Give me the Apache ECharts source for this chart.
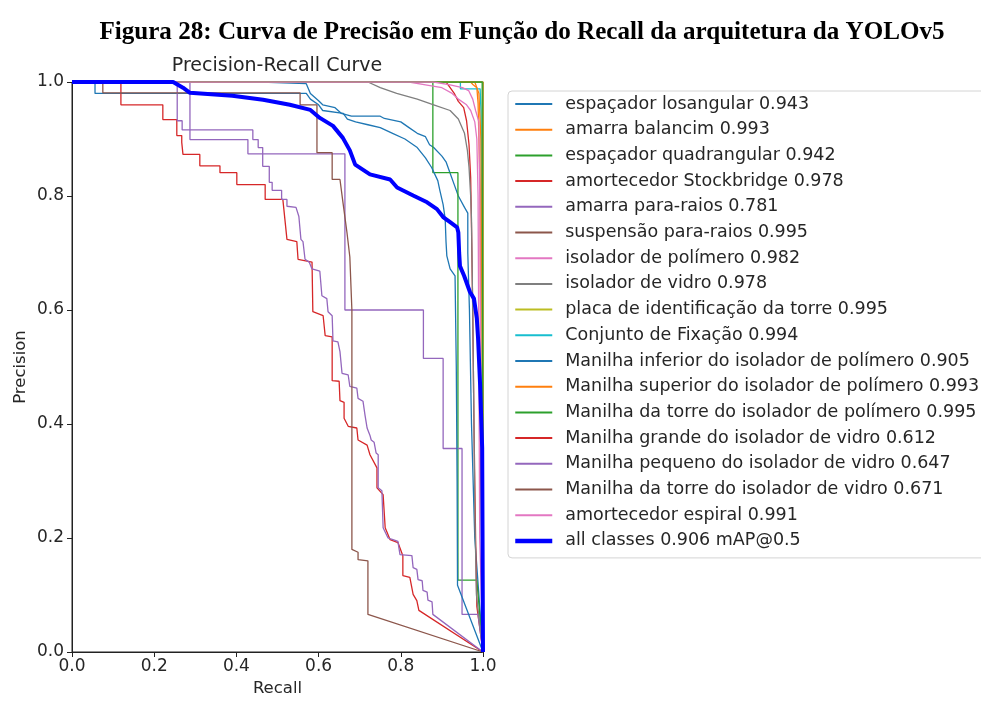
<!DOCTYPE html>
<html>
<head>
<meta charset="utf-8">
<script src="https://cdn.jsdelivr.net/npm/echarts@6/dist/echarts.min.js"></script>
<style>
  html, body { margin: 0; padding: 0; background: #fff; }
  #chart { width: 981px; height: 702px; }
</style>
</head>
<body>
<div id="chart"></div>
<script>
// class names as in the legend
var classNames = [
  'espaçador losangular 0.943',
  'amarra balancim 0.993',
  'espaçador quadrangular 0.942',
  'amortecedor Stockbridge 0.978',
  'amarra para-raios 0.781',
  'suspensão para-raios 0.995',
  'isolador de polímero 0.982',
  'isolador de vidro 0.978',
  'placa de identificação da torre 0.995',
  'Conjunto de Fixação 0.994',
  'Manilha inferior do isolador de polímero 0.905',
  'Manilha superior do isolador de polímero 0.993',
  'Manilha da torre do isolador de polímero 0.995',
  'Manilha grande do isolador de vidro 0.612',
  'Manilha pequeno do isolador de vidro 0.647',
  'Manilha da torre do isolador de vidro 0.671',
  'amortecedor espiral 0.991',
  'all classes 0.906 mAP@0.5'
];

// [recall, precision] pairs
var espacadorLosangular = [[0,1],[0.46,1],[0.46,0.997],[0.57,0.997],[0.58,0.98],[0.6,0.967],[0.61,0.96],[0.64,0.955],[0.655,0.945],[0.68,0.94],[0.75,0.94],[0.76,0.936],[0.8,0.93],[0.82,0.92],[0.84,0.91],[0.86,0.904],[0.87,0.89],[0.88,0.885],[0.9,0.87],[0.91,0.86],[0.92,0.84],[0.93,0.82],[0.94,0.8],[0.955,0.78],[0.963,0.77],[0.963,0.7],[0.967,0.6],[0.972,0.4],[0.98,0.2],[1,0]];
var amarraBalancim = [[0,1],[0.97,1],[0.976,0.995],[0.985,0.99],[0.988,0.963],[0.993,0.81],[0.995,0.3],[1,0]];
var espacadorQuadrangular = [[0,1],[0.878,1],[0.878,0.841],[0.939,0.841],[0.939,0.126],[0.985,0.126],[1,0]];
var amortecedorStockbridge = [[0,1],[0.91,1],[0.92,0.99],[0.93,0.98],[0.94,0.966],[0.953,0.955],[0.96,0.932],[0.966,0.89],[0.97,0.832],[0.972,0.745],[0.975,0.6],[0.978,0.4],[0.982,0.2],[0.985,0.08],[1,0]];
var amarraParaRaios = [[0,1],[0.287,1],[0.287,0.899],[0.428,0.899],[0.428,0.874],[0.664,0.874],[0.664,0.6],[0.855,0.6],[0.855,0.515],[0.903,0.515],[0.903,0.357],[0.949,0.357],[0.949,0.066],[0.988,0.066],[1,0]];
var suspensaoParaRaios = [[0,1],[1,1],[1,0]];
var isoladorPolimero = [[0,1],[0.82,1],[0.86,0.995],[0.9,0.99],[0.925,0.98],[0.94,0.97],[0.96,0.96],[0.97,0.95],[0.98,0.93],[0.985,0.9],[0.988,0.8],[0.99,0.5],[0.992,0.2],[1,0]];
var isoladorVidro = [[0,1],[0.72,1],[0.75,0.99],[0.79,0.98],[0.84,0.97],[0.88,0.96],[0.92,0.95],[0.94,0.935],[0.955,0.91],[0.962,0.88],[0.966,0.85],[0.97,0.8],[0.972,0.76],[0.975,0.6],[0.978,0.4],[0.98,0.25],[0.984,0.1],[1,0]];
var placaIdentificacao = [[0,1],[1,1],[1,0]];
var conjuntoFixacao = [[0,1],[0.945,1],[0.945,0.988],[0.993,0.988],[0.995,0.95],[0.998,0.6],[1,0]];
var manilhaInferiorPolimero = [[0,1],[0.056,1],[0.056,0.98],[0.57,0.98],[0.58,0.97],[0.6,0.96],[0.61,0.95],[0.66,0.945],[0.67,0.935],[0.69,0.93],[0.72,0.925],[0.75,0.92],[0.78,0.91],[0.81,0.9],[0.84,0.885],[0.86,0.867],[0.875,0.85],[0.89,0.827],[0.895,0.81],[0.903,0.785],[0.908,0.76],[0.91,0.72],[0.912,0.695],[0.92,0.672],[0.932,0.66],[0.935,0.5],[0.937,0.3],[0.938,0.117],[1,0]];
var manilhaSuperiorPolimero = [[0,1],[0.98,1],[0.99,0.98],[0.995,0.9],[0.998,0.5],[1,0]];
var manilhaTorrePolimero = [[0,1],[0.998,1],[0.998,0.92],[1,0]];
var manilhaGrandeVidro = [[0,1],[0.119,1],[0.119,0.96],[0.221,0.96],[0.221,0.934],[0.255,0.934],[0.255,0.906],[0.267,0.906],[0.267,0.894],[0.27,0.894],[0.27,0.873],[0.311,0.873],[0.311,0.853],[0.36,0.853],[0.36,0.841],[0.401,0.841],[0.401,0.82],[0.47,0.82],[0.47,0.794],[0.513,0.794],[0.518,0.759],[0.523,0.724],[0.547,0.72],[0.55,0.689],[0.584,0.684],[0.586,0.597],[0.611,0.59],[0.616,0.555],[0.633,0.553],[0.633,0.476],[0.65,0.475],[0.652,0.441],[0.662,0.438],[0.662,0.41],[0.672,0.396],[0.693,0.393],[0.696,0.372],[0.718,0.363],[0.725,0.346],[0.742,0.323],[0.742,0.288],[0.757,0.276],[0.762,0.218],[0.774,0.197],[0.793,0.192],[0.805,0.169],[0.805,0.134],[0.822,0.131],[0.83,0.101],[0.839,0.09],[0.844,0.073],[1,0]];
var manilhaPequenoVidro = [[0,1],[0.256,1],[0.256,0.932],[0.268,0.932],[0.268,0.916],[0.44,0.916],[0.44,0.899],[0.453,0.899],[0.453,0.885],[0.464,0.885],[0.464,0.852],[0.48,0.852],[0.48,0.824],[0.487,0.824],[0.487,0.81],[0.51,0.81],[0.51,0.794],[0.523,0.794],[0.523,0.782],[0.545,0.78],[0.552,0.764],[0.557,0.724],[0.562,0.72],[0.567,0.689],[0.577,0.684],[0.584,0.672],[0.603,0.668],[0.608,0.625],[0.62,0.62],[0.623,0.597],[0.633,0.59],[0.635,0.546],[0.647,0.544],[0.652,0.527],[0.657,0.489],[0.672,0.486],[0.676,0.466],[0.693,0.463],[0.696,0.445],[0.708,0.44],[0.713,0.415],[0.718,0.393],[0.725,0.38],[0.728,0.372],[0.735,0.368],[0.74,0.349],[0.745,0.346],[0.745,0.288],[0.754,0.283],[0.757,0.218],[0.769,0.2],[0.781,0.197],[0.793,0.194],[0.798,0.171],[0.827,0.169],[0.83,0.148],[0.839,0.145],[0.842,0.127],[0.852,0.125],[0.854,0.108],[0.864,0.105],[0.866,0.091],[0.876,0.088],[0.878,0.066],[1,0]];
var manilhaTorreVidro = [[0,1],[0.075,1],[0.075,0.981],[0.555,0.981],[0.555,0.96],[0.596,0.96],[0.596,0.876],[0.633,0.876],[0.633,0.829],[0.652,0.829],[0.659,0.79],[0.669,0.736],[0.676,0.693],[0.681,0.6],[0.681,0.18],[0.696,0.175],[0.696,0.162],[0.72,0.16],[0.72,0.066],[1,0]];
var amortecedorEspiral = [[0,1],[0.88,1],[0.92,0.995],[0.95,0.99],[0.965,0.985],[0.975,0.97],[0.982,0.95],[0.99,0.93],[0.992,0.8],[0.995,0.4],[1,0]];
var allClasses = [[0,1],[0.246,1],[0.27,0.99],[0.287,0.981],[0.39,0.976],[0.465,0.969],[0.53,0.96],[0.58,0.951],[0.603,0.937],[0.635,0.923],[0.659,0.902],[0.676,0.88],[0.689,0.855],[0.725,0.838],[0.774,0.829],[0.791,0.815],[0.83,0.801],[0.864,0.789],[0.888,0.777],[0.903,0.763],[0.92,0.754],[0.937,0.745],[0.94,0.736],[0.942,0.7],[0.944,0.677],[0.954,0.66],[0.968,0.632],[0.978,0.62],[0.985,0.585],[0.988,0.55],[0.993,0.468],[0.998,0.358],[1,0]];

var curves = [
  espacadorLosangular, amarraBalancim, espacadorQuadrangular, amortecedorStockbridge,
  amarraParaRaios, suspensaoParaRaios, isoladorPolimero, isoladorVidro,
  placaIdentificacao, conjuntoFixacao, manilhaInferiorPolimero, manilhaSuperiorPolimero,
  manilhaTorrePolimero, manilhaGrandeVidro, manilhaPequenoVidro, manilhaTorreVidro,
  amortecedorEspiral, allClasses
];

// matplotlib tab10 cycle
var tab10 = ['#1f77b4','#ff7f0e','#2ca02c','#d62728','#9467bd','#8c564b','#e377c2','#7f7f7f','#bcbd22','#17becf'];

var chart = echarts.init(document.getElementById('chart'), null, { renderer: 'canvas' });

var series = curves.map(function (pts, i) {
  var last = i === curves.length - 1;
  return {
    name: classNames[i],
    type: 'line',
    data: pts,
    symbol: 'none',
    silent: true,
    z: last ? 10 : 2,
    lineStyle: {
      color: last ? '#0000ff' : tab10[i % 10],
      width: last ? 4 : 1.3
    },
    itemStyle: { color: last ? '#0000ff' : tab10[i % 10] }
  };
});

var legendData = classNames.map(function (name, i) {
  if (i === classNames.length - 1) {
    return { name: name, lineStyle: { width: 4.5 } };
  }
  return { name: name };
});

var labelFont = 'DejaVu Sans';
var textColor = '#262626';

var option = {
  animation: false,
  backgroundColor: '#fff',
  grid: {
    left: 72,
    right: 498,
    top: 82,
    bottom: 47,
    show: true,
    borderColor: '#222',
    borderWidth: 1
  },
  legend: {
    data: legendData,
    orient: 'vertical',
    left: 508,
    top: 91,
    itemWidth: 37,
    itemHeight: 14,
    itemGap: 7.7,
    padding: [4, 10, 8, 5],
    borderColor: '#d4d4d4',
    borderWidth: 1,
    borderRadius: 4,
    backgroundColor: '#fff',
    selectedMode: false,
    itemStyle: { opacity: 0 },
    textStyle: {
      fontFamily: labelFont,
      fontSize: 17.5,
      color: textColor,
      padding: [0, 0, 0, 8]
    }
  },
  xAxis: {
    type: 'value',
    min: 0,
    max: 1,
    interval: 0.2,
    name: 'Recall',
    nameLocation: 'middle',
    nameGap: 28,
    nameTextStyle: { fontFamily: labelFont, fontSize: 16.5, color: textColor },
    axisLine: { lineStyle: { color: '#222', width: 1 } },
    axisTick: { show: true, length: 5, lineStyle: { color: '#222' } },
    axisLabel: {
      fontFamily: labelFont, fontSize: 17, color: textColor, margin: 6,
      formatter: function (v) { return v.toFixed(1); }
    },
    splitLine: { show: false }
  },
  yAxis: {
    type: 'value',
    min: 0,
    max: 1,
    interval: 0.2,
    name: 'Precision',
    nameLocation: 'middle',
    nameGap: 43,
    nameTextStyle: { fontFamily: labelFont, fontSize: 16.5, color: textColor },
    axisLine: { lineStyle: { color: '#222', width: 1 } },
    axisTick: { show: true, length: 5, lineStyle: { color: '#222' } },
    axisLabel: {
      fontFamily: labelFont, fontSize: 17, color: textColor, margin: 8,
      formatter: function (v) { return v.toFixed(1); }
    },
    splitLine: { show: false }
  },
  graphic: [
    {
      type: 'text',
      x: 522,
      y: 32,
      scaleX: 0.965,
      style: {
        text: 'Figura 28: Curva de Precisão em Função do Recall da arquitetura da YOLOv5',
        font: 'bold 26px "Liberation Serif"',
        fill: '#000',
        textAlign: 'center',
        textVerticalAlign: 'middle'
      }
    },
    {
      type: 'text',
      x: 277,
      y: 66,
      style: {
        text: 'Precision-Recall Curve',
        font: '19px "DejaVu Sans"',
        fill: textColor,
        textAlign: 'center',
        textVerticalAlign: 'middle'
      }
    }
  ],
  series: series
};

chart.setOption(option);
</script>
</body>
</html>
